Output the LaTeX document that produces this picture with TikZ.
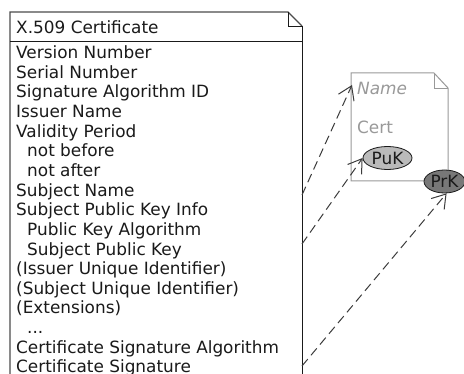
\documentclass[tikz,border=0pt]{standalone}
\usepackage{fontspec}
\setmainfont{DejaVu Sans}
\usetikzlibrary{arrows.meta,shapes.geometric}
\definecolor{ink}{HTML}{1A1A1A}
\definecolor{faded}{HTML}{999999}
\newcommand{\certfont}{\fontsize{16.9}{16.9}\selectfont}
\tikzset{
  x=1pt,y=-1pt,
  certline/.style={anchor=base west,inner sep=0pt,text=ink,font=\certfont},
  notetext/.style={anchor=base west,inner sep=0pt,text=faded,font=\certfont},
  keyellipse/.style={ellipse,draw=ink,line width=0.8pt,inner sep=0pt,minimum height=23pt,text=ink,font=\certfont},
  link/.style={draw=ink!85,line width=1pt,dash pattern=on 9pt off 5pt,-{Straight Barb[length=13pt,width=17pt,line width=1pt]}},
}
\begin{document}
\begin{tikzpicture}
\useasboundingbox (0,0) rectangle (464,374);
\fill[white] (0,0) rectangle (464,374);
\begin{scope}
\clip (0,0) rectangle (464,374);
% certificate note
\draw[black!70,line width=1.4pt] (10,380) -- (10,12) -- (288,12) -- (302,26);
\draw[ink,line width=1pt] (302,26) -- (302,380);
\draw[ink,line width=0.8pt] (288,12) -- (288,26) -- (302,26);
\draw[ink,line width=0.8pt] (10,41) -- (302,41);
\node[certline] (title) at (16,33.6) {X.509 Certificate};
\node[certline] (l1) at (16,58.6) {Version Number};
\node[certline] (l2) at (16,78.2) {Serial Number};
\node[certline] (l3) at (16,97.9) {Signature Algorithm ID};
\node[certline] (l4) at (16,117.5) {Issuer Name};
\node[certline] (l5) at (16,137.2) {Validity Period};
\node[certline] (l6) at (27,156.8) {not before};
\node[certline] (l7) at (27,176.5) {not after};
\node[certline] (l8) at (16,196.1) {Subject Name};
\node[certline] (l9) at (16,215.8) {Subject Public Key Info};
\node[certline] (l10) at (27,235.4) {Public Key Algorithm};
\node[certline] (l11) at (27,255.1) {Subject Public Key};
\node[certline] (l12) at (16,274.7) {(Issuer Unique Identifier)};
\node[certline] (l13) at (16,294.4) {(Subject Unique Identifier)};
\node[certline] (l14) at (16,314) {(Extensions)};
\node[certline] (l15) at (27,333.7) {...};
\node[certline] (l16) at (16,353.4) {Certificate Signature Algorithm};
\node[certline] (l17) at (16,373) {Certificate Signature};
% small certificate
\draw[faded,line width=1pt,fill=white] (351,73) -- (434,73) -- (448,88) -- (448,181) -- (351,181) -- cycle;
\draw[faded,line width=0.8pt] (434,73) -- (434,88) -- (448,88);
\node[notetext,font=\certfont\itshape] (name) at (357,94.6) {Name};
\node[notetext] (cert) at (357,133.6) {Cert};
\node[keyellipse,fill=black!27,minimum width=49pt] (puk) at (387.5,158) {PuK};
\node[keyellipse,fill=black!53,minimum width=41pt] (prk) at (444.5,181.5) {PrK};
% anchors on the certificate edge and the name
\coordinate (subjname) at (302,195);
\coordinate (subjkey) at (302,244);
\coordinate (sig) at (302,366);
\coordinate (nameleft) at (352,85);
\draw[link] (subjname) -- (nameleft);
\draw[link] (subjkey) -- (puk.west);
\draw[link] (sig) -- (prk.-80);
\end{scope}
\end{tikzpicture}
\end{document}
